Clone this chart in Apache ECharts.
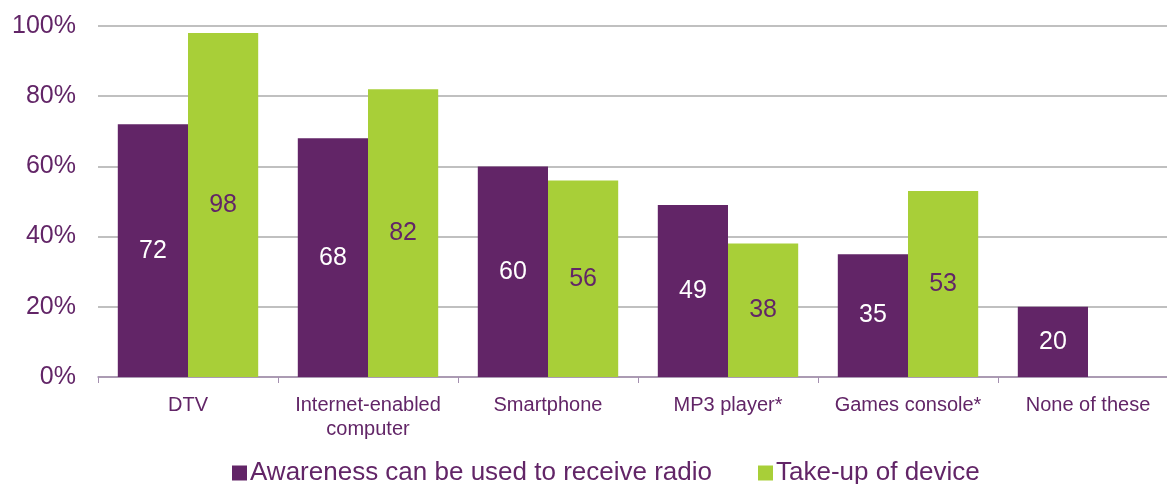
<!DOCTYPE html>
<html><head><meta charset="utf-8">
<script src="https://cdn.jsdelivr.net/npm/echarts@6/dist/echarts.min.js"></script>
<style>html,body{margin:0;padding:0;background:#fff}#c{width:1167px;height:484px}</style>
</head><body><div id="c"></div>
<script>
const categories = ["DTV", "Internet-enabled\ncomputer", "Smartphone", "MP3 player*", "Games console*", "None of these"];
const awareness = [72, 68, 60, 49, 35, 20];
const takeUp = [98, 82, 56, 38, 53, null];
const yTicks = [0, 20, 40, 60, 80, 100];
const seriesNames = ["Awareness can be used to receive radio", "Take-up of device"];

const purple = "#622567", green = "#A8CF38";
const font = "Liberation Sans, Arial, sans-serif";
const chart = echarts.init(document.getElementById('c'));
chart.setOption({
  animation: false,
  textStyle: { fontFamily: font },
  grid: { left: 98, top: 26, width: 1080, height: 351, containLabel: false, outerBoundsMode: 'none' },
  legend: {
    top: 455, left: 227, itemGap: 46, itemWidth: 15, itemHeight: 15,
    icon: 'rect',
    textStyle: { color: purple, fontSize: 26, fontFamily: font, padding: [0, 0, 0, -2] },
    data: seriesNames
  },
  xAxis: {
    type: 'category', data: categories,
    axisLine: { lineStyle: { color: '#A48FAF', width: 1.5 } },
    axisTick: { show: true, alignWithLabel: false, length: 6, lineStyle: { color: '#A48FAF' } },
    axisLabel: { color: purple, fontSize: 20, fontFamily: font, margin: 16, lineHeight: 24, interval: 0 }
  },
  yAxis: {
    type: 'value', min: 0, max: 100, interval: 20,
    axisLine: { show: false }, axisTick: { show: false },
    splitLine: { lineStyle: { color: '#C0C0C0', width: 2 } },
    axisLabel: { color: purple, fontSize: 25, fontFamily: font, margin: 22, formatter: v => yTicks.includes(v) ? v + '%' : '' }
  },
  series: [
    { name: seriesNames[0], type: 'bar', data: awareness, barGap: '0%', barCategoryGap: '22%',
      itemStyle: { color: purple },
      label: { show: true, position: 'inside', color: '#fff', fontSize: 25, fontFamily: font } },
    { name: seriesNames[1], type: 'bar', data: takeUp,
      itemStyle: { color: green },
      label: { show: true, position: 'inside', color: purple, fontSize: 25, fontFamily: font } }
  ]
});
</script></body></html>
